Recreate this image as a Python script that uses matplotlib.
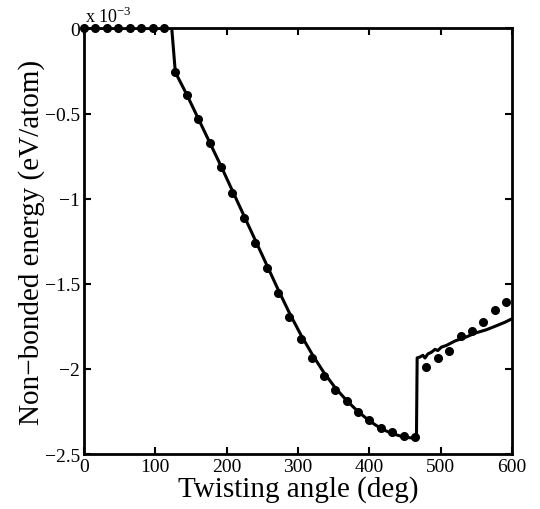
"""
Non-bonded energy vs twisting angle, recreated in a MATLAB-like look.
"""

import numpy as np
import matplotlib
matplotlib.use("Agg")
import matplotlib.pyplot as plt

plt.rcParams['font.family'] = ['Liberation Serif', 'DejaVu Serif']

# dots (units of 1e-3 eV/atom)
dot_angle = [0, 16, 32, 48, 64, 80, 96, 112, 128, 144, 160, 176, 192, 208, 224,
             240, 256, 272, 288, 304, 320, 336, 352, 368, 384, 400, 416, 432,
             448, 464, 480, 496, 512, 528, 544, 560, 576, 592]
dot_energy = [0, 0, 0, 0, 0, 0, 0, 0, -0.257, -0.391, -0.532, -0.673, -0.816,
              -0.966, -1.113, -1.262, -1.409, -1.556, -1.697, -1.826, -1.938,
              -2.040, -2.122, -2.190, -2.255, -2.300, -2.345, -2.372, -2.392,
              -2.402, -1.987, -1.938, -1.895, -1.804, -1.779, -1.726, -1.656,
              -1.605]

# solid line
line_angle = [0, 123, 128, 144, 160, 176, 192, 208, 224, 240, 256, 272, 288,
              304, 320, 336, 352, 368, 384, 400, 416, 432, 448, 458, 466,
              467, 471, 475, 478, 482, 487, 492, 496, 501, 508, 520, 536,
              548, 564, 576, 590, 600]
line_energy = [0, 0, -0.257, -0.388, -0.528, -0.668, -0.808, -0.953, -1.098,
               -1.243, -1.388, -1.533, -1.672, -1.800, -1.915, -2.020, -2.110,
               -2.185, -2.250, -2.305, -2.350, -2.380, -2.400, -2.405, -2.408,
               -1.935, -1.930, -1.920, -1.936, -1.912, -1.902, -1.885, -1.892,
               -1.872, -1.862, -1.836, -1.812, -1.790, -1.770, -1.750, -1.726,
               -1.705]

fig = plt.figure(figsize=(5.4, 5.1), dpi=100)
ax = fig.add_axes([0.1556, 0.1078, 0.7926, 0.8344])

ax.plot(line_angle, line_energy, color='black', lw=2.2, zorder=3)
ax.plot(dot_angle, dot_energy, 'o', color='black', ms=5.5, zorder=4, clip_on=False)

ax.set_xlim(0, 600)
ax.set_ylim(-2.5, 0)
ax.set_xticks([0, 100, 200, 300, 400, 500, 600])
ax.set_yticks([-2.5, -2, -1.5, -1, -0.5, 0])
ax.set_yticklabels(['\u22122.5', '\u22122', '\u22121.5', '\u22121', '\u22120.5', '0'])

ax.tick_params(direction='in', length=5, width=1.5, top=True, right=True,
               labelsize=14, pad=3)
ax.tick_params(axis='x', pad=3)
for s in ax.spines.values():
    s.set_linewidth(2)

ax.set_xlabel('Twisting angle (deg)', fontsize=21, labelpad=0)
ax.set_ylabel('Non\u2212bonded energy (eV/atom)', fontsize=21, labelpad=0)

ax.text(0.003, 1.005, 'x 10$^{\\mathregular{\u22123}}$', transform=ax.transAxes,
        fontsize=13, ha='left', va='bottom')

fig.savefig('out.png', dpi=100)
